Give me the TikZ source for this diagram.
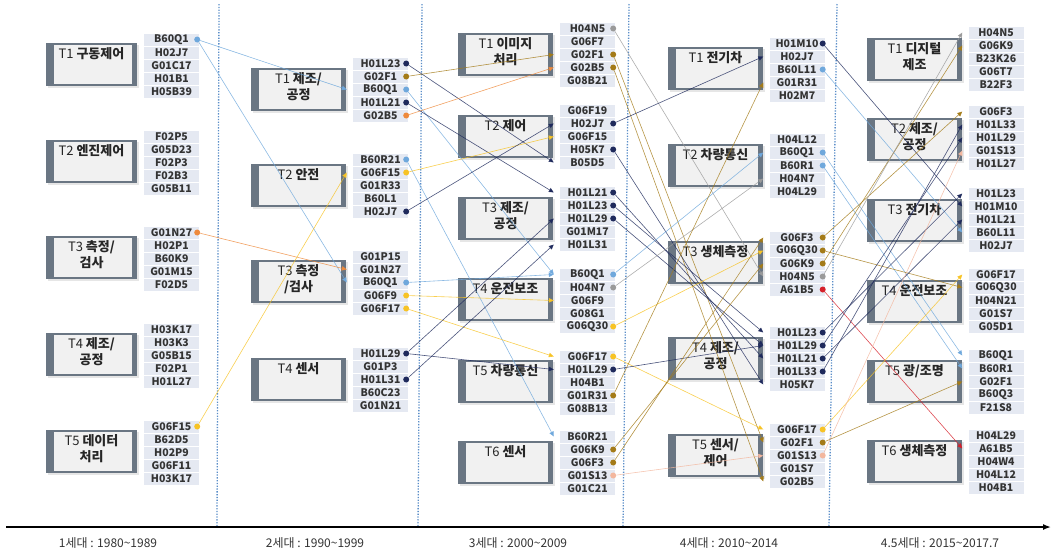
\documentclass[tikz,border=0pt]{standalone}
\usepackage{fontspec}
\setmainfont{Noto Sans CJK KR}
\usetikzlibrary{arrows.meta, positioning, shadows}

\definecolor{navy}{HTML}{1F2A5C}
\definecolor{lblue}{HTML}{6FA8DC}
\definecolor{gold}{HTML}{A47B18}
\definecolor{orng}{HTML}{EE8A3C}
\definecolor{yel}{HTML}{F7C325}
\definecolor{gry}{HTML}{9A9A9A}
\definecolor{peach}{HTML}{F3B79E}
\definecolor{redd}{HTML}{D6202A}
\definecolor{boxedge}{HTML}{6A7683}
\definecolor{boxfill}{HTML}{F1F1F1}
\definecolor{listbg}{HTML}{E5E9F2}
\definecolor{divblue}{HTML}{5A8DC8}

\tikzset{
  tbox/.style={fill=boxedge, minimum width=95pt, minimum height=43pt, inner sep=0pt,
    drop shadow={opacity=0.2, shadow xshift=1.5pt, shadow yshift=-2pt},
    path picture={\fill[boxfill] ([xshift=8pt,yshift=-2pt]path picture bounding box.north west)
      rectangle ([xshift=-5pt,yshift=2pt]path picture bounding box.south east);}},
  ttl/.style={anchor=north, inner sep=0pt, align=center, text=black!85,
    font=\fontsize{13}{16}\selectfont},
  code/.style={fill=listbg, minimum width=55pt, minimum height=12pt, inner sep=0pt,
    text=black!80, font=\fontsize{10.5}{12}\selectfont\bfseries},
  dot/.style={circle, inner sep=0pt, minimum size=6pt},
  conn/.style={line width=0.6pt, draw opacity=0.8, -{Triangle[length=5pt,width=4.5pt]}},
  divider/.style={divblue, line width=1.3pt, dash pattern=on 1.3pt off 1.5pt},
  axis/.style={line width=1.5pt, -{Latex[length=8pt,width=6pt]}},
  era/.style={inner sep=0pt, text=black!80, font=\fontsize{12}{14}\selectfont}
}

\begin{document}
\begin{tikzpicture}[x=1pt, y=-1pt]
\useasboundingbox (0,0) rectangle (1054,550);

% generation dividers
\draw[divider] (219,4) -- (217,527);
\draw[divider] (422,4) -- (418,527);
\draw[divider] (629,4) -- (623,527);
\draw[divider] (837,4) -- (829,527);

% time axis
\coordinate (ax0) at (6,527);
\coordinate (ax1) at (1051,527);
\draw[axis] (ax0) -- (ax1);
\node[era] (era1) at (108,543) {1세대 : 1980\textasciitilde1989};
\node[era] (era2) at (315,543) {2세대 : 1990\textasciitilde1999};
\node[era] (era3) at (518,543) {3세대 : 2000\textasciitilde2009};
\node[era] (era4) at (729,543) {4세대 : 2010\textasciitilde2014};
\node[era] (era5) at (940,543) {4.5세대 : 2015\textasciitilde2017.7};

% 1st generation
\node[tbox, minimum width=91pt] (g1t1) at (91.5,64.5) {};
\node[ttl] (g1t1-ttl) at ([yshift=-5pt]g1t1.north) {T1 \textbf{구동제어}};
\node[tbox, minimum width=91pt] (g1t2) at (91.5,161.5) {};
\node[ttl] (g1t2-ttl) at ([yshift=-5pt]g1t2.north) {T2 \textbf{엔진제어}};
\node[tbox, minimum width=91pt] (g1t3) at (91.5,257.5) {};
\node[ttl] (g1t3-ttl) at ([yshift=-5pt]g1t3.north) {T3 \textbf{측정/}\\\textbf{검사}};
\node[tbox, minimum width=91pt] (g1t4) at (91.5,354.5) {};
\node[ttl] (g1t4-ttl) at ([yshift=-5pt]g1t4.north) {T4 \textbf{제조/}\\\textbf{공정}};
\node[tbox, minimum width=91pt] (g1t5) at (91.5,451.5) {};
\node[ttl] (g1t5-ttl) at ([yshift=-5pt]g1t5.north) {T5 \textbf{데이터}\\\textbf{처리}};
\foreach \c [count=\i] in {B60Q1,H02J7,G01C17,H01B1,H05B39}
  \node[code] (g1t1-\i) at (171.5,{26.5+13*\i}) {\c};
\foreach \c [count=\i] in {F02P5,G05D23,F02P3,F02B3,G05B11}
  \node[code] (g1t2-\i) at (171.5,{123.5+13*\i}) {\c};
\foreach \c [count=\i] in {G01N27,H02P1,B60K9,G01M15,F02D5}
  \node[code] (g1t3-\i) at (171.5,{219.5+13*\i}) {\c};
\foreach \c [count=\i] in {H03K17,H03K3,G05B15,F02P1,H01L27}
  \node[code] (g1t4-\i) at (171.5,{316.5+13*\i}) {\c};
\foreach \c [count=\i] in {G06F15,B62D5,H02P9,G06F11,H03K17}
  \node[code] (g1t5-\i) at (171.5,{413.5+13*\i}) {\c};

% 2nd generation
\node[tbox] (g2t1) at (298.5,89) {};
\node[ttl] (g2t1-ttl) at ([yshift=-5pt]g2t1.north) {T1 \textbf{제조/}\\\textbf{공정}};
\node[tbox] (g2t2) at (298.5,185) {};
\node[ttl] (g2t2-ttl) at ([yshift=-5pt]g2t2.north) {T2 \textbf{안전}};
\node[tbox] (g2t3) at (298.5,281) {};
\node[ttl] (g2t3-ttl) at ([yshift=-5pt]g2t3.north) {T3 \textbf{측정}\\\textbf{/검사}};
\node[tbox] (g2t4) at (298.5,379) {};
\node[ttl] (g2t4-ttl) at ([yshift=-5pt]g2t4.north) {T4 \textbf{센서}};
\foreach \c [count=\i] in {H01L23,G02F1,B60Q1,H01L21,G02B5}
  \node[code] (g2t1-\i) at (380.5,{50.5+13*\i}) {\c};
\foreach \c [count=\i] in {B60R21,G06F15,G01R33,B60L1,H02J7}
  \node[code] (g2t2-\i) at (380.5,{146.5+13*\i}) {\c};
\foreach \c [count=\i] in {G01P15,G01N27,B60Q1,G06F9,G06F17}
  \node[code] (g2t3-\i) at (380.5,{243.5+13*\i}) {\c};
\foreach \c [count=\i] in {H01L29,G01P3,H01L31,B60C23,G01N21}
  \node[code] (g2t4-\i) at (380.5,{340.5+13*\i}) {\c};

% 3rd generation
\node[tbox] (g3t1) at (505.5,54) {};
\node[ttl] (g3t1-ttl) at ([yshift=-5pt]g3t1.north) {T1 \textbf{이미지}\\\textbf{처리}};
\node[tbox] (g3t2) at (505.5,136) {};
\node[ttl] (g3t2-ttl) at ([yshift=-5pt]g3t2.north) {T2 \textbf{제어}};
\node[tbox] (g3t3) at (505.5,218) {};
\node[ttl] (g3t3-ttl) at ([yshift=-5pt]g3t3.north) {T3 \textbf{제조/}\\\textbf{공정}};
\node[tbox] (g3t4) at (505.5,299.5) {};
\node[ttl] (g3t4-ttl) at ([yshift=-5pt]g3t4.north) {T4 \textbf{운전보조}};
\node[tbox] (g3t5) at (505.5,381) {};
\node[ttl] (g3t5-ttl) at ([yshift=-5pt]g3t5.north) {T5 \textbf{차량통신}};
\node[tbox] (g3t6) at (505.5,462) {};
\node[ttl] (g3t6-ttl) at ([yshift=-5pt]g3t6.north) {T6 \textbf{센서}};
\foreach \c [count=\i] in {H04N5,G06F7,G02F1,G02B5,G08B21}
  \node[code] (g3t1-\i) at (587.5,{15.5+13*\i}) {\c};
\foreach \c [count=\i] in {G06F19,H02J7,G06F15,H05K7,B05D5}
  \node[code] (g3t2-\i) at (587.5,{97.5+13*\i}) {\c};
\foreach \c [count=\i] in {H01L21,H01L23,H01L29,G01M17,H01L31}
  \node[code] (g3t3-\i) at (587.5,{179.5+13*\i}) {\c};
\foreach \c [count=\i] in {B60Q1,H04N7,G06F9,G08G1,G06Q30}
  \node[code] (g3t4-\i) at (587.5,{261.5+13*\i}) {\c};
\foreach \c [count=\i] in {G06F17,H01L29,H04B1,G01R31,G08B13}
  \node[code] (g3t5-\i) at (587.5,{343.5+13*\i}) {\c};
\foreach \c [count=\i] in {B60R21,G06K9,G06F3,G01S13,G01C21}
  \node[code] (g3t6-\i) at (587.5,{423.5+13*\i}) {\c};

% 4th generation
\node[tbox] (g4t1) at (715.5,68.5) {};
\node[ttl] (g4t1-ttl) at ([yshift=-5pt]g4t1.north) {T1 \textbf{전기차}};
\node[tbox] (g4t2) at (715.5,165) {};
\node[ttl] (g4t2-ttl) at ([yshift=-5pt]g4t2.north) {T2 \textbf{차량통신}};
\node[tbox] (g4t3) at (715.5,262) {};
\node[ttl] (g4t3-ttl) at ([yshift=-5pt]g4t3.north) {T3 \textbf{생체측정}};
\node[tbox] (g4t4) at (715.5,358) {};
\node[ttl] (g4t4-ttl) at ([yshift=-5pt]g4t4.north) {T4 \textbf{제조/}\\\textbf{공정}};
\node[tbox] (g4t5) at (715.5,455) {};
\node[ttl] (g4t5-ttl) at ([yshift=-5pt]g4t5.north) {T5 \textbf{센서/}\\\textbf{제어}};
\foreach \c [count=\i] in {H01M10,H02J7,B60L11,G01R31,H02M7}
  \node[code] (g4t1-\i) at (797,{30.5+13*\i}) {\c};
\foreach \c [count=\i] in {H04L12,B60Q1,B60R1,H04N7,H04L29}
  \node[code] (g4t2-\i) at (797,{126.5+13*\i}) {\c};
\foreach \c [count=\i] in {G06F3,G06Q30,G06K9,H04N5,A61B5}
  \node[code] (g4t3-\i) at (797,{224.5+13*\i}) {\c};
\foreach \c [count=\i] in {H01L23,H01L29,H01L21,H01L33,H05K7}
  \node[code] (g4t4-\i) at (797,{319.5+13*\i}) {\c};
\foreach \c [count=\i] in {G06F17,G02F1,G01S13,G01S7,G02B5}
  \node[code] (g4t5-\i) at (797,{416.5+13*\i}) {\c};

% 4.5th generation
\node[tbox] (g5t1) at (914.5,59.5) {};
\node[ttl] (g5t1-ttl) at ([yshift=-5pt]g5t1.north) {T1 \textbf{디지털}\\\textbf{제조}};
\node[tbox] (g5t2) at (914.5,139.5) {};
\node[ttl] (g5t2-ttl) at ([yshift=-5pt]g5t2.north) {T2 \textbf{제조/}\\\textbf{공정}};
\node[tbox] (g5t3) at (914.5,220) {};
\node[ttl] (g5t3-ttl) at ([yshift=-5pt]g5t3.north) {T3 \textbf{전기차}};
\node[tbox] (g5t4) at (914.5,301) {};
\node[ttl] (g5t4-ttl) at ([yshift=-5pt]g5t4.north) {T4 \textbf{운전보조}};
\node[tbox] (g5t5) at (914.5,381.5) {};
\node[ttl] (g5t5-ttl) at ([yshift=-5pt]g5t5.north) {T5 \textbf{광/조명}};
\node[tbox] (g5t6) at (914.5,461.5) {};
\node[ttl] (g5t6-ttl) at ([yshift=-5pt]g5t6.north) {T6 \textbf{생체측정}};
\foreach \c [count=\i] in {H04N5,G06K9,B23K26,G06T7,B22F3}
  \node[code] (g5t1-\i) at (996,{19.5+13*\i}) {\c};
\foreach \c [count=\i] in {G06F3,H01L33,H01L29,G01S13,H01L27}
  \node[code] (g5t2-\i) at (996,{98.5+13*\i}) {\c};
\foreach \c [count=\i] in {H01L23,H01M10,H01L21,B60L11,H02J7}
  \node[code] (g5t3-\i) at (996,{180.5+13*\i}) {\c};
\foreach \c [count=\i] in {G06F17,G06Q30,H04N21,G01S7,G05D1}
  \node[code] (g5t4-\i) at (996,{261.5+13*\i}) {\c};
\foreach \c [count=\i] in {B60Q1,B60R1,G02F1,B60Q3,F21S8}
  \node[code] (g5t5-\i) at (996,{342.5+13*\i}) {\c};
\foreach \c [count=\i] in {H04L29,A61B5,H04W4,H04L12,H04B1}
  \node[code] (g5t6-\i) at (996,{422.5+13*\i}) {\c};

% source dots
\foreach \n/\col in {g1t1-1/lblue, g1t3-1/orng, g1t5-1/yel,
    g2t1-1/navy, g2t1-2/gold, g2t1-3/lblue, g2t1-4/navy, g2t1-5/orng,
    g2t2-1/lblue, g2t2-2/yel, g2t2-5/navy, g2t3-3/lblue, g2t3-4/yel, g2t3-5/yel,
    g2t4-1/navy, g2t4-3/navy,
    g3t1-1/gry, g3t1-3/gold, g3t1-4/gold, g3t2-2/navy, g3t2-4/navy,
    g3t3-1/navy, g3t3-2/navy, g3t3-3/navy, g3t4-1/lblue, g3t4-2/gry, g3t4-5/yel,
    g3t5-1/yel, g3t5-2/navy, g3t5-4/gold, g3t6-2/gold, g3t6-3/gold, g3t6-4/peach,
    g4t1-1/navy, g4t1-3/lblue, g4t2-2/lblue, g4t2-3/lblue,
    g4t3-1/gold, g4t3-2/gold, g4t3-3/gold, g4t3-4/gry, g4t3-5/redd,
    g4t4-1/navy, g4t4-2/navy, g4t4-3/navy, g4t4-4/navy,
    g4t5-1/yel, g4t5-2/gold, g4t5-3/peach}
  \node[dot, fill=\col] (\n d) at ([xshift=-2pt]\n.east) {};

% 1st -> 2nd
\draw[conn, lblue] (g1t1-1d) -- ([xshift=-6pt]g2t1-3.west);
\draw[conn, lblue] (g1t1-1d) -- ([xshift=-6pt]g2t3-3.west);
\draw[conn, orng] (g1t3-1d) -- ([xshift=-6pt]g2t3-2.west);
\draw[conn, yel] (g1t5-1d) -- ([xshift=-6pt]g2t2-2.west);

% 2nd -> 3rd
\draw[conn, navy] (g2t1-1d) -- ([xshift=-6pt]g3t2-5.west);
\draw[conn, gold] (g2t1-2d) -- ([xshift=-6pt]g3t1-3.west);
\draw[conn, lblue] (g2t1-3d) -- ([xshift=-6pt]g3t4-1.west);
\draw[conn, navy] (g2t1-4d) -- ([xshift=-6pt]g3t3-1.west);
\draw[conn, orng] (g2t1-5d) -- ([xshift=-6pt]g3t1-4.west);
\draw[conn, lblue] (g2t2-1d) -- ([xshift=-6pt]g3t6-1.west);
\draw[conn, yel] (g2t2-2d) -- ([xshift=-6pt]g3t2-3.west);
\draw[conn, navy] (g2t2-5d) -- ([xshift=-6pt]g3t2-2.west);
\draw[conn, lblue] (g2t3-3d) -- ([xshift=-6pt]g3t4-1.west);
\draw[conn, yel] (g2t3-4d) -- ([xshift=-6pt]g3t4-3.west);
\draw[conn, yel] (g2t3-5d) -- ([xshift=-6pt]g3t5-1.west);
\draw[conn, navy] (g2t4-1d) -- ([xshift=-6pt]g3t5-2.west);
\draw[conn, navy] (g2t4-1d) -- ([xshift=-6pt]g3t3-3.west);
\draw[conn, navy] (g2t4-3d) -- ([xshift=-6pt]g3t3-5.west);

% 3rd -> 4th
\draw[conn, gry] (g3t1-1d) -- ([xshift=-6pt]g4t3-4.west);
\draw[conn, gold] (g3t1-3d) -- ([xshift=-6pt]g4t5-2.west);
\draw[conn, gold] (g3t1-4d) -- ([xshift=-6pt]g4t5-5.west);
\draw[conn, navy] (g3t2-2d) -- ([xshift=-6pt]g4t1-2.west);
\draw[conn, navy] (g3t2-4d) -- ([xshift=-6pt]g4t4-5.west);
\draw[conn, navy] (g3t3-1d) -- ([xshift=-6pt]g4t4-3.west);
\draw[conn, navy] (g3t3-2d) -- ([xshift=-6pt]g4t4-1.west);
\draw[conn, navy] (g3t3-3d) -- ([xshift=-6pt]g4t4-2.west);
\draw[conn, lblue] (g3t4-1d) -- ([xshift=-6pt]g4t2-2.west);
\draw[conn, gry] (g3t4-2d) -- ([xshift=-6pt]g4t2-4.west);
\draw[conn, yel] (g3t4-5d) -- ([xshift=-6pt]g4t3-2.west);
\draw[conn, yel] (g3t5-1d) -- ([xshift=-6pt]g4t5-1.west);
\draw[conn, navy] (g3t5-2d) -- ([xshift=-6pt]g4t4-2.west);
\draw[conn, gold] (g3t5-4d) -- ([xshift=-6pt]g4t1-4.west);
\draw[conn, gold] (g3t6-2d) -- ([xshift=-6pt]g4t3-3.west);
\draw[conn, gold] (g3t6-3d) -- ([xshift=-6pt]g4t3-1.west);
\draw[conn, peach] (g3t6-4d) -- ([xshift=-6pt]g4t5-3.west);

% 4th -> 4.5th
\draw[conn, navy] (g4t1-1d) -- ([xshift=-6pt]g5t3-2.west);
\draw[conn, lblue] (g4t1-3d) -- ([xshift=-6pt]g5t3-4.west);
\draw[conn, lblue] (g4t2-2d) -- ([xshift=-6pt]g5t5-1.west);
\draw[conn, lblue] (g4t2-3d) -- ([xshift=-6pt]g5t5-2.west);
\draw[conn, gold] (g4t3-1d) -- ([xshift=-6pt]g5t2-1.west);
\draw[conn, gold] (g4t3-2d) -- ([xshift=-6pt]g5t4-2.west);
\draw[conn, gold] (g4t3-3d) -- ([xshift=-6pt]g5t1-2.west);
\draw[conn, gry] (g4t3-4d) -- ([xshift=-6pt]g5t1-1.west);
\draw[conn, redd] (g4t3-5d) -- ([xshift=-6pt]g5t6-2.west);
\draw[conn, navy] (g4t4-1d) -- ([xshift=-6pt]g5t3-1.west);
\draw[conn, navy] (g4t4-2d) -- ([xshift=-6pt]g5t2-3.west);
\draw[conn, navy] (g4t4-3d) -- ([xshift=-6pt]g5t3-3.west);
\draw[conn, navy] (g4t4-4d) -- ([xshift=-6pt]g5t2-2.west);
\draw[conn, yel] (g4t5-1d) -- ([xshift=-6pt]g5t4-1.west);
\draw[conn, gold] (g4t5-2d) -- ([xshift=-6pt]g5t5-3.west);
\draw[conn, peach] (g4t5-3d) -- ([xshift=-6pt]g5t2-4.west);
\end{tikzpicture}
\end{document}
